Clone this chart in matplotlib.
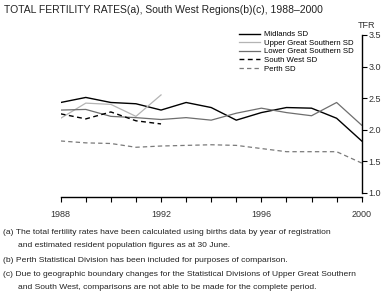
import matplotlib
matplotlib.use("Agg")
import matplotlib.pyplot as plt

years = list(range(1988, 2001))
midlands = [2.43, 2.51, 2.43, 2.41, 2.31, 2.43, 2.35, 2.15, 2.27, 2.35, 2.34, 2.18, 1.82]
upper_gs = [2.18, 2.42, 2.40, 2.21, 2.55]
lower_gs = [2.31, 2.32, 2.21, 2.19, 2.16, 2.19, 2.15, 2.26, 2.34, 2.27, 2.22, 2.43, 2.07]
south_west = [2.25, 2.17, 2.28, 2.14, 2.09]
perth = [1.82, 1.79, 1.78, 1.72, 1.74, 1.75, 1.76, 1.75, 1.70, 1.65, 1.65, 1.65, 1.47]

yticks = [1.0, 1.5, 2.0, 2.5, 3.0, 3.5]
xticklabels = {1988: "1988", 1992: "1992", 1996: "1996", 2000: "2000"}

TITLE = "TOTAL FERTILITY RATES(a), South West Regions(b)(c), 1988\u20132000"
NOTES = [
    ("(a) The total fertility rates have been calculated using births data by year of registration", 0),
    ("and estimated resident population figures as at 30 June.", 1),
    ("(b) Perth Statistical Division has been included for purposes of comparison.", 0),
    ("(c) Due to geographic boundary changes for the Statistical Divisions of Upper Great Southern", 0),
    ("and South West, comparisons are not able to be made for the complete period.", 1),
]

plt.rcParams["font.family"] = ["Liberation Sans", "DejaVu Sans"]

W, H = 390, 301
fig = plt.figure(figsize=(W / 100, H / 100), dpi=100)
ax = fig.add_axes([60.7 / W, 1 - 197 / H, 301 / W, 162 / H])

ax.plot(years, midlands, color="black", lw=1.0, label="Midlands SD")
ax.plot(years[:len(upper_gs)], upper_gs, color="#b4b4b4", lw=0.9, label="Upper Great Southern SD")
ax.plot(years, lower_gs, color="#6e6e6e", lw=0.9, label="Lower Great Southern SD")
ax.plot(years[:len(south_west)], south_west, color="black", lw=1.0, ls=(0, (3.5, 2.5)),
        label="South West SD")
ax.plot(years, perth, color="#7a7a7a", lw=0.9, ls=(0, (3.5, 2.5)), label="Perth SD")

ax.set_xlim(1988, 2000)
ax.set_ylim(1.0 - 4.3 / 63, 3.5)
ax.spines["left"].set_visible(False)
ax.spines["top"].set_visible(False)
ax.spines["right"].set_bounds(1.0, 3.5)
ax.spines["right"].set_linewidth(1.0)
ax.spines["bottom"].set_linewidth(1.0)
ax.yaxis.tick_right()
ax.set_yticks(yticks)
ax.set_yticklabels([f"{v:.1f}" for v in yticks])
ax.set_xticks(years)
ax.set_xticklabels([xticklabels.get(y, "") for y in years])
ax.tick_params(axis="both", length=3.5, width=0.8, labelsize=6.5, pad=1.5,
               color="black", labelcolor="#333333")
ax.tick_params(axis="x", pad=6)
fig.text(366 / W, 1 - 26 / H, "TFR", fontsize=6.5, color="#333333", ha="center", va="center")

leg = ax.legend(loc="upper left", bbox_to_anchor=(178 / 301, 1.025), frameon=False,
                fontsize=5.6, handlelength=2.8, handletextpad=0.45, labelspacing=0.14,
                borderpad=0, borderaxespad=0)

fig.text(4 / W, 1 - 10 / H, TITLE, fontsize=7.5, ha="left", va="center", color="#222222")

note_y = [233, 245.7, 260, 274.3, 287.3]
for (txt, indent), yy in zip(NOTES, note_y):
    fig.text((3 if indent == 0 else 18) / W, 1 - yy / H, txt, fontsize=6.1,
             ha="left", va="center", color="#222222")

fig.savefig("out.png", dpi=100)
